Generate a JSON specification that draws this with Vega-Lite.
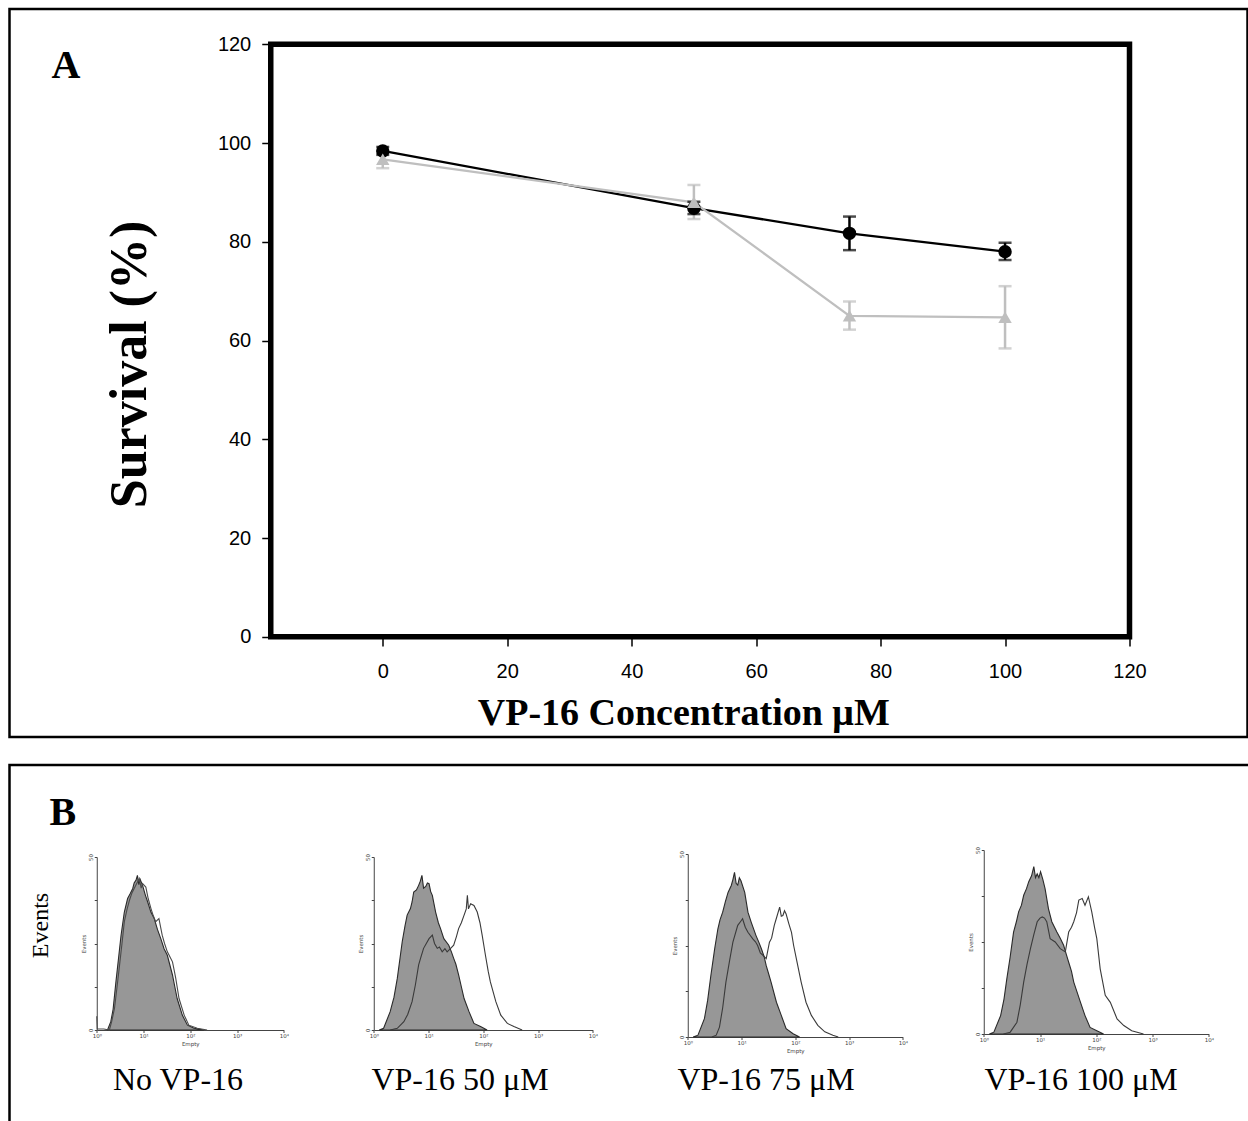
{
  "$schema": "https://vega.github.io/schema/vega-lite/v6.json",
  "padding": {"left": 7.5, "top": 7, "right": -3, "bottom": -2},
  "background": "white",
  "spacing": 24,
  "config": {
    "font": "Liberation Sans",
    "view": {"stroke": "black", "strokeWidth": 2.5},
    "axis": {"grid": false, "labelFlush": false}
  },
  "datasets": {
    "survival": [
      {"series": "circles", "conc": 0, "survival": 98.4, "lower": 97.6, "upper": 99.2},
      {"series": "circles", "conc": 50, "survival": 86.8, "lower": 85.6, "upper": 88.1},
      {"series": "circles", "conc": 75, "survival": 81.7, "lower": 78.3, "upper": 85.1},
      {"series": "circles", "conc": 100, "survival": 78.0, "lower": 76.3, "upper": 79.8},
      {"series": "triangles", "conc": 0, "survival": 96.7, "lower": 94.9, "upper": 98.5},
      {"series": "triangles", "conc": 50, "survival": 88.0, "lower": 84.6, "upper": 91.5},
      {"series": "triangles", "conc": 75, "survival": 65.0, "lower": 62.2, "upper": 67.9},
      {"series": "triangles", "conc": 100, "survival": 64.7, "lower": 58.4, "upper": 71.0}
    ],
    "h1_control": [
      {"logFL":0.23,"events":0},{"logFL":0.30,"events":2.4},{"logFL":0.35,"events":6},{"logFL":0.41,"events":13.9},{"logFL":0.46,"events":20},{"logFL":0.52,"events":27.4},{"logFL":0.59,"events":34.1},{"logFL":0.66,"events":38},{"logFL":0.72,"events":39.5},{"logFL":0.77,"events":40.9},{"logFL":0.80,"events":42.5},{"logFL":0.84,"events":43.3},{"logFL":0.87,"events":44.7},{"logFL":0.90,"events":42},{"logFL":0.93,"events":43.5},{"logFL":0.98,"events":41.8},{"logFL":1.04,"events":39},{"logFL":1.09,"events":37},{"logFL":1.16,"events":34},{"logFL":1.23,"events":32.2},{"logFL":1.30,"events":29},{"logFL":1.37,"events":26.4},{"logFL":1.44,"events":23.5},{"logFL":1.51,"events":21.6},{"logFL":1.56,"events":19},{"logFL":1.62,"events":15.9},{"logFL":1.67,"events":12.5},{"logFL":1.72,"events":9.1},{"logFL":1.78,"events":6.5},{"logFL":1.83,"events":4.3},{"logFL":1.94,"events":1.4},{"logFL":2.08,"events":0.5},{"logFL":2.29,"events":0}
    ],
    "h1_treated": [
      {"logFL":0.0,"events":4},{"logFL":0.01,"events":0.3},{"logFL":0.15,"events":0.3},{"logFL":0.27,"events":0},{"logFL":0.32,"events":2.5},{"logFL":0.38,"events":6.3},{"logFL":0.43,"events":12},{"logFL":0.48,"events":17.8},{"logFL":0.54,"events":25},{"logFL":0.59,"events":31.3},{"logFL":0.65,"events":35},{"logFL":0.70,"events":37.5},{"logFL":0.75,"events":39.5},{"logFL":0.80,"events":40.9},{"logFL":0.86,"events":42.5},{"logFL":0.91,"events":43.8},{"logFL":0.95,"events":41},{"logFL":0.98,"events":42.3},{"logFL":1.05,"events":41.3},{"logFL":1.10,"events":38},{"logFL":1.16,"events":35.1},{"logFL":1.21,"events":33},{"logFL":1.26,"events":31.3},{"logFL":1.33,"events":32.2},{"logFL":1.40,"events":27.4},{"logFL":1.45,"events":25},{"logFL":1.51,"events":22.6},{"logFL":1.57,"events":21},{"logFL":1.62,"events":19.7},{"logFL":1.66,"events":17},{"logFL":1.69,"events":14.9},{"logFL":1.76,"events":9.1},{"logFL":1.87,"events":4.3},{"logFL":1.97,"events":1.4},{"logFL":2.15,"events":0.5},{"logFL":2.36,"events":0}
    ],
    "h2_control": [
      {"logFL":0.10,"events":0},{"logFL":0.18,"events":0.5},{"logFL":0.30,"events":5.3},{"logFL":0.37,"events":9.5},{"logFL":0.43,"events":14.9},{"logFL":0.52,"events":25.5},{"logFL":0.57,"events":30},{"logFL":0.61,"events":33.2},{"logFL":0.67,"events":35.1},{"logFL":0.70,"events":37},{"logFL":0.73,"events":39.9},{"logFL":0.78,"events":40.5},{"logFL":0.82,"events":41.8},{"logFL":0.85,"events":43},{"logFL":0.88,"events":44.7},{"logFL":0.91,"events":41},{"logFL":0.95,"events":41.5},{"logFL":0.98,"events":42.5},{"logFL":1.01,"events":42.3},{"logFL":1.04,"events":40},{"logFL":1.07,"events":38.9},{"logFL":1.13,"events":34.1},{"logFL":1.18,"events":31},{"logFL":1.22,"events":29.3},{"logFL":1.28,"events":26.4},{"logFL":1.37,"events":24.5},{"logFL":1.42,"events":22.5},{"logFL":1.46,"events":20.7},{"logFL":1.50,"events":19},{"logFL":1.55,"events":15.9},{"logFL":1.60,"events":12.5},{"logFL":1.65,"events":9.1},{"logFL":1.74,"events":5.3},{"logFL":1.83,"events":1.9},{"logFL":1.95,"events":1},{"logFL":2.07,"events":0}
    ],
    "h2_treated": [
      {"logFL":0.30,"events":0},{"logFL":0.43,"events":0.5},{"logFL":0.55,"events":2.4},{"logFL":0.62,"events":4.5},{"logFL":0.70,"events":8.2},{"logFL":0.76,"events":13},{"logFL":0.82,"events":18.8},{"logFL":0.86,"events":21},{"logFL":0.91,"events":23.6},{"logFL":0.96,"events":25},{"logFL":1.01,"events":26.4},{"logFL":1.07,"events":27.4},{"logFL":1.11,"events":25},{"logFL":1.16,"events":23.6},{"logFL":1.20,"events":24},{"logFL":1.25,"events":22.6},{"logFL":1.30,"events":23.5},{"logFL":1.34,"events":22.6},{"logFL":1.40,"events":23.5},{"logFL":1.46,"events":24.5},{"logFL":1.51,"events":27},{"logFL":1.55,"events":29.3},{"logFL":1.60,"events":31},{"logFL":1.65,"events":33.2},{"logFL":1.69,"events":35},{"logFL":1.71,"events":38.9},{"logFL":1.73,"events":35},{"logFL":1.77,"events":36.5},{"logFL":1.83,"events":36},{"logFL":1.89,"events":34.1},{"logFL":1.94,"events":31},{"logFL":1.98,"events":27.4},{"logFL":2.04,"events":21.6},{"logFL":2.09,"events":17},{"logFL":2.13,"events":13.9},{"logFL":2.23,"events":8.2},{"logFL":2.32,"events":4.3},{"logFL":2.44,"events":1.9},{"logFL":2.56,"events":1},{"logFL":2.71,"events":0}
    ],
    "h3_control": [
      {"logFL":0.10,"events":0},{"logFL":0.19,"events":0.5},{"logFL":0.31,"events":5},{"logFL":0.37,"events":10},{"logFL":0.43,"events":16.8},{"logFL":0.50,"events":24},{"logFL":0.56,"events":29.5},{"logFL":0.60,"events":32},{"logFL":0.65,"events":34.1},{"logFL":0.70,"events":37},{"logFL":0.75,"events":39.5},{"logFL":0.81,"events":41.4},{"logFL":0.84,"events":43},{"logFL":0.87,"events":45},{"logFL":0.90,"events":42},{"logFL":0.93,"events":41.5},{"logFL":0.96,"events":43.5},{"logFL":0.99,"events":42.7},{"logFL":1.06,"events":39.5},{"logFL":1.12,"events":34.1},{"logFL":1.18,"events":31.4},{"logFL":1.27,"events":27.7},{"logFL":1.32,"events":26},{"logFL":1.37,"events":24.1},{"logFL":1.42,"events":22},{"logFL":1.46,"events":19.5},{"logFL":1.51,"events":17},{"logFL":1.55,"events":15},{"logFL":1.65,"events":9.5},{"logFL":1.74,"events":5.9},{"logFL":1.83,"events":2.3},{"logFL":1.96,"events":0.9},{"logFL":2.08,"events":0}
    ],
    "h3_treated": [
      {"logFL":0.45,"events":0},{"logFL":0.53,"events":0.5},{"logFL":0.59,"events":2.7},{"logFL":0.65,"events":8},{"logFL":0.71,"events":15},{"logFL":0.78,"events":21},{"logFL":0.84,"events":25.9},{"logFL":0.93,"events":30.5},{"logFL":0.98,"events":31.5},{"logFL":1.02,"events":32.3},{"logFL":1.07,"events":30},{"logFL":1.12,"events":28.6},{"logFL":1.21,"events":26.8},{"logFL":1.26,"events":26},{"logFL":1.30,"events":25},{"logFL":1.35,"events":23},{"logFL":1.40,"events":22.3},{"logFL":1.46,"events":21.4},{"logFL":1.52,"events":25.9},{"logFL":1.56,"events":27},{"logFL":1.61,"events":30.5},{"logFL":1.66,"events":33},{"logFL":1.71,"events":35.5},{"logFL":1.74,"events":33},{"logFL":1.77,"events":33.2},{"logFL":1.80,"events":34.5},{"logFL":1.83,"events":33.6},{"logFL":1.88,"events":31},{"logFL":1.93,"events":28.6},{"logFL":1.97,"events":25},{"logFL":2.02,"events":21.4},{"logFL":2.11,"events":15},{"logFL":2.20,"events":9.5},{"logFL":2.30,"events":5.9},{"logFL":2.42,"events":3.2},{"logFL":2.55,"events":1.4},{"logFL":2.70,"events":0.5},{"logFL":2.80,"events":0}
    ],
    "h4_control": [
      {"logFL":0.10,"events":0},{"logFL":0.18,"events":0.5},{"logFL":0.30,"events":5},{"logFL":0.36,"events":9.5},{"logFL":0.41,"events":15},{"logFL":0.47,"events":21},{"logFL":0.53,"events":27.7},{"logFL":0.58,"events":30.5},{"logFL":0.62,"events":33.2},{"logFL":0.67,"events":35},{"logFL":0.71,"events":37.7},{"logFL":0.76,"events":39.5},{"logFL":0.80,"events":41.4},{"logFL":0.85,"events":43},{"logFL":0.89,"events":45.5},{"logFL":0.92,"events":42.5},{"logFL":0.95,"events":43.5},{"logFL":0.98,"events":42.5},{"logFL":1.01,"events":44.1},{"logFL":1.05,"events":42},{"logFL":1.09,"events":39.5},{"logFL":1.15,"events":34.1},{"logFL":1.21,"events":30.5},{"logFL":1.30,"events":27.7},{"logFL":1.36,"events":26},{"logFL":1.42,"events":24.1},{"logFL":1.47,"events":21.5},{"logFL":1.51,"events":19.5},{"logFL":1.56,"events":17},{"logFL":1.60,"events":14.1},{"logFL":1.72,"events":8.6},{"logFL":1.80,"events":5},{"logFL":1.89,"events":1.8},{"logFL":2.01,"events":0.9},{"logFL":2.13,"events":0}
    ],
    "h4_treated": [
      {"logFL":0.35,"events":0},{"logFL":0.47,"events":0.5},{"logFL":0.59,"events":3.2},{"logFL":0.65,"events":8},{"logFL":0.71,"events":14.1},{"logFL":0.77,"events":19},{"logFL":0.83,"events":23.2},{"logFL":0.89,"events":27},{"logFL":0.95,"events":30.5},{"logFL":1.00,"events":31.5},{"logFL":1.04,"events":31.8},{"logFL":1.08,"events":31.5},{"logFL":1.12,"events":30.5},{"logFL":1.18,"events":25.9},{"logFL":1.27,"events":25},{"logFL":1.36,"events":23.2},{"logFL":1.45,"events":22.3},{"logFL":1.51,"events":27.7},{"logFL":1.56,"events":29},{"logFL":1.60,"events":30.5},{"logFL":1.65,"events":33},{"logFL":1.69,"events":36.4},{"logFL":1.75,"events":36.8},{"logFL":1.80,"events":35},{"logFL":1.86,"events":37.3},{"logFL":1.92,"events":33.2},{"logFL":1.97,"events":29},{"logFL":2.01,"events":25.9},{"logFL":2.07,"events":17.7},{"logFL":2.16,"events":10.5},{"logFL":2.25,"events":8.6},{"logFL":2.37,"events":4.1},{"logFL":2.49,"events":2.3},{"logFL":2.63,"events":0.9},{"logFL":2.84,"events":0}
    ]
  },
  "vconcat": [
    {
      "width": 1238,
      "height": 728,
      "title": {"text": "A", "anchor": "start", "frame": "group", "orient": "top", "offset": -109.25, "dx": 42, "baseline": "alphabetic", "align": "left", "font": "Liberation Serif", "fontSize": 40, "fontWeight": "bold", "color": "black"},
      "data": {"name": "survival"},
      "layer": [
        {
          "mark": {"type": "line", "strokeWidth": 2.3},
          "encoding": {
            "x": {"field": "conc", "type": "quantitative",
                  "scale": {"domain": [-18, 120], "range": [261.25, 1120], "nice": false, "zero": false},
                  "axis": {"orient": "bottom", "offset": -100, "values": [0, 20, 40, 60, 80, 100, 120], "domain": false,
                           "tickSize": 9, "tickWidth": 1.5, "tickColor": "black",
                           "labelFont": "Liberation Sans", "labelFontSize": 20, "labelColor": "black", "labelPadding": 15,
                           "title": "VP-16 Concentration μM", "titleFont": "Liberation Serif", "titleFontSize": 38, "titleFontWeight": "bold", "titleColor": "black",
                           "titleX": 673.75, "titleY": 87.75, "titleBaseline": "alphabetic", "titleAlign": "center"}},
            "y": {"field": "survival", "type": "quantitative",
                  "scale": {"domain": [0, 120], "range": [627.75, 35.25], "nice": false, "zero": false},
                  "axis": {"orient": "left", "offset": -261.25, "values": [0, 20, 40, 60, 80, 100, 120], "domain": false,
                           "tickSize": 9, "tickWidth": 1.5, "tickColor": "black",
                           "labelFont": "Liberation Sans", "labelFontSize": 20, "labelColor": "black", "labelPadding": 11,
                           "title": "Survival (%)", "titleFont": "Liberation Serif", "titleFontSize": 52, "titleFontWeight": "bold", "titleColor": "black",
                           "titleX": -125, "titleY": 355, "titleAngle": -90, "titleBaseline": "alphabetic", "titleAlign": "center"}},
            "color": {"field": "series", "type": "nominal", "scale": {"domain": ["circles", "triangles"], "range": ["#000000", "#bfbfbf"]}, "legend": null}
          }
        },
        {
          "mark": {"type": "rule", "strokeWidth": 2.5},
          "encoding": {
            "x": {"field": "conc", "type": "quantitative"},
            "y": {"field": "lower", "type": "quantitative"},
            "y2": {"field": "upper"},
            "color": {"field": "series", "type": "nominal", "legend": null}
          }
        },
        {
          "mark": {"type": "tick", "orient": "horizontal", "size": 13, "thickness": 2.5},
          "encoding": {
            "x": {"field": "conc", "type": "quantitative"},
            "y": {"field": "lower", "type": "quantitative"},
            "color": {"field": "series", "type": "nominal", "legend": null}
          }
        },
        {
          "mark": {"type": "tick", "orient": "horizontal", "size": 13, "thickness": 2.5},
          "encoding": {
            "x": {"field": "conc", "type": "quantitative"},
            "y": {"field": "upper", "type": "quantitative"},
            "color": {"field": "series", "type": "nominal", "legend": null}
          }
        },
        {
          "mark": {"type": "point", "filled": true, "size": 180, "opacity": 1},
          "encoding": {
            "x": {"field": "conc", "type": "quantitative"},
            "y": {"field": "survival", "type": "quantitative"},
            "color": {"field": "series", "type": "nominal", "legend": null},
            "shape": {"field": "series", "type": "nominal", "scale": {"domain": ["circles", "triangles"], "range": ["circle", "triangle-up"]}, "legend": null}
          }
        },
        {
          "data": {"values": [{}]},
          "mark": {"type": "rect", "fillOpacity": 0, "stroke": "black", "strokeWidth": 5.5, "strokeJoin": "miter"},
          "encoding": {
            "x": {"datum": -18, "type": "quantitative"},
            "x2": {"datum": 120},
            "y": {"datum": 0, "type": "quantitative"},
            "y2": {"datum": 120}
          }
        }
      ]
    },
    {
      "width": 1241,
      "height": 359,
      "title": {"text": "B", "anchor": "start", "frame": "group", "orient": "top", "offset": -99.75, "dx": 40, "baseline": "alphabetic", "align": "left", "font": "Liberation Serif", "fontSize": 40, "fontWeight": "bold", "color": "black"},
      "resolve": {"scale": {"x": "independent", "y": "independent"}},
      "layer": [
        {
          "resolve": {"axis": {"x": "independent", "y": "independent"}},
          "layer": [
            {
              "data": {"name": "h1_control"},
              "mark": {"type": "area", "fill": "#979797", "stroke": "#2a2a2a", "strokeWidth": 1.1, "fillOpacity": 1},
              "encoding": {
                "x": {"field": "logFL", "type": "quantitative", "scale": {"domain": [0, 4], "range": [87.25, 274.25], "nice": false, "zero": false},
                      "axis": {"orient": "bottom", "offset": -94, "values": [0, 1, 2, 3, 4], "labelExpr": "'10' + ['⁰','¹','²','³','⁴'][datum.value]",
                               "domainColor": "#444", "domainWidth": 1, "tickColor": "#444", "tickSize": 2.5, "labelFont": "DejaVu Sans", "labelFontSize": 5.5, "labelColor": "#444", "labelPadding": 1,
                               "title": "Empty", "titleFont": "DejaVu Sans", "titleFontSize": 5.5, "titleFontWeight": "normal", "titleColor": "#444", "titlePadding": 2}},
                "y": {"field": "events", "type": "quantitative", "scale": {"domain": [0, 50], "range": [265, 92], "nice": false, "zero": false},
                      "axis": {"orient": "left", "offset": -87.25, "values": [0, 12.5, 25, 37.5, 50], "labelExpr": "datum.value == 0 || datum.value == 50 ? datum.label : ''",
                               "labelAngle": -90, "domainColor": "#444", "domainWidth": 1, "tickColor": "#444", "tickSize": 2.5, "labelFont": "DejaVu Sans", "labelFontSize": 5.5, "labelColor": "#444", "labelPadding": 1,
                               "title": "Events", "titleFont": "DejaVu Sans", "titleFontSize": 5.5, "titleFontWeight": "normal", "titleColor": "#444", "titlePadding": 2}}
              }
            },
            {
              "data": {"name": "h1_treated"},
              "mark": {"type": "line", "color": "#4a4a4a", "strokeWidth": 1.1},
              "encoding": {
                "x": {"field": "logFL", "type": "quantitative",
                      "axis": {"orient": "bottom", "offset": -94, "domain": false, "ticks": false, "labels": false,
                               "title": "No VP-16", "titleFont": "Liberation Serif", "titleFontSize": 32, "titleFontWeight": "normal", "titleColor": "black",
                               "titleX": 168, "titleY": 59, "titleBaseline": "alphabetic", "titleAlign": "center"}},
                "y": {"field": "events", "type": "quantitative",
                      "axis": {"orient": "left", "offset": -87.25, "domain": false, "ticks": false, "labels": false,
                               "title": "Events", "titleFont": "Liberation Serif", "titleFontSize": 24, "titleFontWeight": "normal", "titleColor": "black",
                               "titleX": -49, "titleY": 160, "titleAngle": -90, "titleBaseline": "alphabetic", "titleAlign": "center"}}
              }
            }
          ]
        },
        {
          "resolve": {"axis": {"x": "independent", "y": "independent"}},
          "layer": [
            {
              "data": {"name": "h2_control"},
              "mark": {"type": "area", "fill": "#979797", "stroke": "#2a2a2a", "strokeWidth": 1.1, "fillOpacity": 1},
              "encoding": {
                "x": {"field": "logFL", "type": "quantitative", "scale": {"domain": [0, 4], "range": [364.25, 583.25], "nice": false, "zero": false},
                      "axis": {"orient": "bottom", "offset": -94, "values": [0, 1, 2, 3, 4], "labelExpr": "'10' + ['⁰','¹','²','³','⁴'][datum.value]",
                               "domainColor": "#444", "domainWidth": 1, "tickColor": "#444", "tickSize": 2.5, "labelFont": "DejaVu Sans", "labelFontSize": 5.5, "labelColor": "#444", "labelPadding": 1,
                               "title": "Empty", "titleFont": "DejaVu Sans", "titleFontSize": 5.5, "titleFontWeight": "normal", "titleColor": "#444", "titlePadding": 2}},
                "y": {"field": "events", "type": "quantitative", "scale": {"domain": [0, 50], "range": [265, 92], "nice": false, "zero": false},
                      "axis": {"orient": "left", "offset": -364.25, "values": [0, 12.5, 25, 37.5, 50], "labelExpr": "datum.value == 0 || datum.value == 50 ? datum.label : ''",
                               "labelAngle": -90, "domainColor": "#444", "domainWidth": 1, "tickColor": "#444", "tickSize": 2.5, "labelFont": "DejaVu Sans", "labelFontSize": 5.5, "labelColor": "#444", "labelPadding": 1,
                               "title": "Events", "titleFont": "DejaVu Sans", "titleFontSize": 5.5, "titleFontWeight": "normal", "titleColor": "#444", "titlePadding": 2}}
              }
            },
            {
              "data": {"name": "h2_treated"},
              "mark": {"type": "line", "color": "#3a3a3a", "strokeWidth": 1.1},
              "encoding": {
                "x": {"field": "logFL", "type": "quantitative",
                      "axis": {"orient": "bottom", "offset": -94, "domain": false, "ticks": false, "labels": false,
                               "title": "VP-16 50 μM", "titleFont": "Liberation Serif", "titleFontSize": 32, "titleFontWeight": "normal", "titleColor": "black",
                               "titleX": 450, "titleY": 59, "titleBaseline": "alphabetic", "titleAlign": "center"}},
                "y": {"field": "events", "type": "quantitative", "axis": null}
              }
            }
          ]
        },
        {
          "resolve": {"axis": {"x": "independent", "y": "independent"}},
          "layer": [
            {
              "data": {"name": "h3_control"},
              "mark": {"type": "area", "fill": "#979797", "stroke": "#2a2a2a", "strokeWidth": 1.1, "fillOpacity": 1},
              "encoding": {
                "x": {"field": "logFL", "type": "quantitative", "scale": {"domain": [0, 4], "range": [678.25, 893.25], "nice": false, "zero": false},
                      "axis": {"orient": "bottom", "offset": -87, "values": [0, 1, 2, 3, 4], "labelExpr": "'10' + ['⁰','¹','²','³','⁴'][datum.value]",
                               "domainColor": "#444", "domainWidth": 1, "tickColor": "#444", "tickSize": 2.5, "labelFont": "DejaVu Sans", "labelFontSize": 5.5, "labelColor": "#444", "labelPadding": 1,
                               "title": "Empty", "titleFont": "DejaVu Sans", "titleFontSize": 5.5, "titleFontWeight": "normal", "titleColor": "#444", "titlePadding": 2}},
                "y": {"field": "events", "type": "quantitative", "scale": {"domain": [0, 50], "range": [272, 89], "nice": false, "zero": false},
                      "axis": {"orient": "left", "offset": -678.25, "values": [0, 12.5, 25, 37.5, 50], "labelExpr": "datum.value == 0 || datum.value == 50 ? datum.label : ''",
                               "labelAngle": -90, "domainColor": "#444", "domainWidth": 1, "tickColor": "#444", "tickSize": 2.5, "labelFont": "DejaVu Sans", "labelFontSize": 5.5, "labelColor": "#444", "labelPadding": 1,
                               "title": "Events", "titleFont": "DejaVu Sans", "titleFontSize": 5.5, "titleFontWeight": "normal", "titleColor": "#444", "titlePadding": 2}}
              }
            },
            {
              "data": {"name": "h3_treated"},
              "mark": {"type": "line", "color": "#3a3a3a", "strokeWidth": 1.1},
              "encoding": {
                "x": {"field": "logFL", "type": "quantitative",
                      "axis": {"orient": "bottom", "offset": -87, "domain": false, "ticks": false, "labels": false,
                               "title": "VP-16 75 μM", "titleFont": "Liberation Serif", "titleFontSize": 32, "titleFontWeight": "normal", "titleColor": "black",
                               "titleX": 756, "titleY": 52, "titleBaseline": "alphabetic", "titleAlign": "center"}},
                "y": {"field": "events", "type": "quantitative", "axis": null}
              }
            }
          ]
        },
        {
          "resolve": {"axis": {"x": "independent", "y": "independent"}},
          "layer": [
            {
              "data": {"name": "h4_control"},
              "mark": {"type": "area", "fill": "#979797", "stroke": "#2a2a2a", "strokeWidth": 1.1, "fillOpacity": 1},
              "encoding": {
                "x": {"field": "logFL", "type": "quantitative", "scale": {"domain": [0, 4], "range": [974.25, 1199.25], "nice": false, "zero": false},
                      "axis": {"orient": "bottom", "offset": -90, "values": [0, 1, 2, 3, 4], "labelExpr": "'10' + ['⁰','¹','²','³','⁴'][datum.value]",
                               "domainColor": "#444", "domainWidth": 1, "tickColor": "#444", "tickSize": 2.5, "labelFont": "DejaVu Sans", "labelFontSize": 5.5, "labelColor": "#444", "labelPadding": 1,
                               "title": "Empty", "titleFont": "DejaVu Sans", "titleFontSize": 5.5, "titleFontWeight": "normal", "titleColor": "#444", "titlePadding": 2}},
                "y": {"field": "events", "type": "quantitative", "scale": {"domain": [0, 50], "range": [269, 85], "nice": false, "zero": false},
                      "axis": {"orient": "left", "offset": -974.25, "values": [0, 12.5, 25, 37.5, 50], "labelExpr": "datum.value == 0 || datum.value == 50 ? datum.label : ''",
                               "labelAngle": -90, "domainColor": "#444", "domainWidth": 1, "tickColor": "#444", "tickSize": 2.5, "labelFont": "DejaVu Sans", "labelFontSize": 5.5, "labelColor": "#444", "labelPadding": 1,
                               "title": "Events", "titleFont": "DejaVu Sans", "titleFontSize": 5.5, "titleFontWeight": "normal", "titleColor": "#444", "titlePadding": 2}}
              }
            },
            {
              "data": {"name": "h4_treated"},
              "mark": {"type": "line", "color": "#3a3a3a", "strokeWidth": 1.1},
              "encoding": {
                "x": {"field": "logFL", "type": "quantitative",
                      "axis": {"orient": "bottom", "offset": -90, "domain": false, "ticks": false, "labels": false,
                               "title": "VP-16 100 μM", "titleFont": "Liberation Serif", "titleFontSize": 32, "titleFontWeight": "normal", "titleColor": "black",
                               "titleX": 1071, "titleY": 55, "titleBaseline": "alphabetic", "titleAlign": "center"}},
                "y": {"field": "events", "type": "quantitative", "axis": null}
              }
            }
          ]
        }
      ]
    }
  ]
}
